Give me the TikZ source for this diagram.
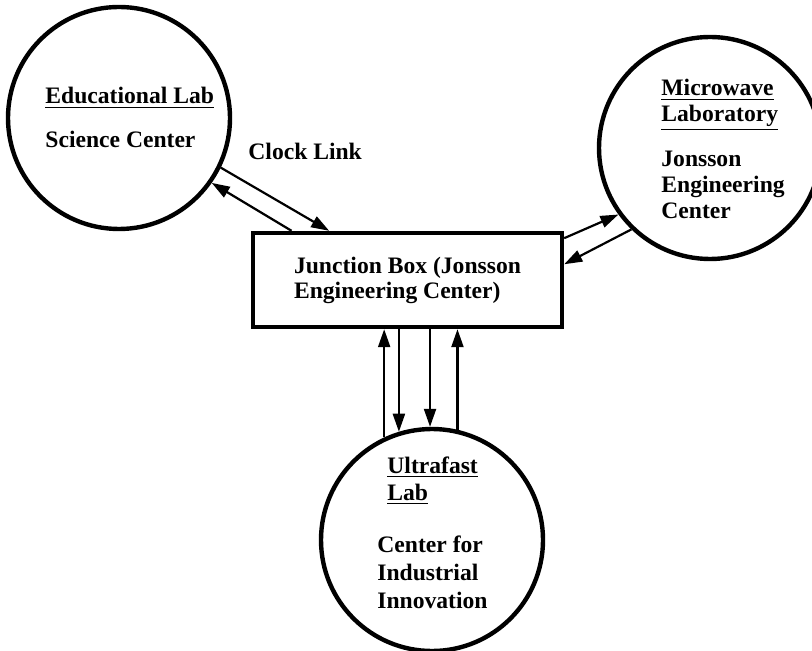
\documentclass[tikz,border=0pt]{standalone}
\usepackage{fontspec}
\setmainfont{Liberation Serif}
\usetikzlibrary{arrows.meta,calc,positioning}

\tikzset{
    site/.style={draw, circle, line width=2.2pt, minimum size=111pt, inner sep=0pt},
    jbox/.style={draw, rectangle, line width=2.2pt, minimum width=154.5pt, minimum height=47pt, align=left,
        font=\bfseries\fontsize{11.8}{12.5}\selectfont},
    lbl/.style={anchor=base west, align=left, inner sep=0pt, font=\bfseries\fontsize{11.8}{13}\selectfont},
    link/.style={line width=1.1pt, -{Triangle[length=9pt,width=6pt]}}
}

\begin{document}
\begin{tikzpicture}[x=0.5pt, y=-0.5pt]
    \useasboundingbox (0,0) rectangle (812,651);

    \node[site] (edu) at (119,118) {};
    \node[site] (micro) at (710,148) {};
    \node[site] (ultra) at (432,540) {};
    \node[jbox] (junc) at (407.5,280) {Junction Box (Jonsson\\Engineering Center)};

    % text blocks, placed by the baseline of their last line
    \node[lbl] (edutxt) at (45,148) {\underline{Educational Lab}\\[9pt]Science Center};
    \node[lbl] (microtxt) at (661,219) {\underline{Microwave}\\\underline{Laboratory}\\[9.5pt]Jonsson\\Engineering\\Center};
    \node[lbl] (ultratxt) at (377,608) {\hspace*{5pt}\underline{Ultrafast}\\[0.5pt]\hspace*{5pt}\underline{Lab}\\[13pt]Center for\\[1pt]Industrial\\[1pt]Innovation};
    \node[lbl] (clk) at (248,160) {Clock Link};

    % clock link to educational lab
    \draw[link] (edu.-26) -- ($(junc.north west)!0.25!(junc.north east)$);
    \draw[link] ($(junc.north west)!0.13!(junc.north east)$) -- (edu.-35);

    % microwave lab
    \draw[link] ($(junc.north east)!0.075!(junc.south east)$) -- (micro.216);
    \draw[link] (micro.226) -- ($(junc.north east)!0.34!(junc.south east)$);

    % ultrafast lab
    \draw[link] (ultra.115) -- (ultra.115 |- junc.south);
    \draw[link] (ultra.107 |- junc.south) -- (ultra.107);
    \draw[link] (ultra.91 |- junc.south) -- (ultra.91);
    \draw[link] (ultra.77) -- (ultra.77 |- junc.south);
\end{tikzpicture}
\end{document}
